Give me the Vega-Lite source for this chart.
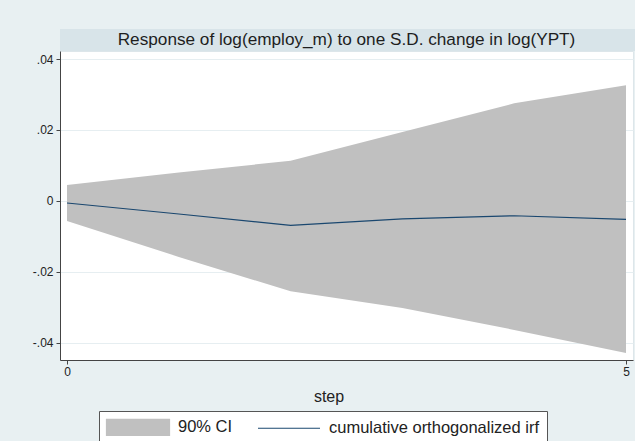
{
  "$schema": "https://vega.github.io/schema/vega-lite/v6.json",
  "background": "#e8f0f2",
  "padding": {"left": 31, "top": 29, "right": 0, "bottom": 0},
  "bounds": "flush",
  "spacing": 0,
  "config": {
    "font": "Liberation Sans",
    "view": {"fill": "white", "stroke": "#dde6ea"}
  },
  "datasets": {
    "irf": [
      {"step": 0, "lower": -0.0057, "upper": 0.0045, "irf": -0.0006},
      {"step": 1, "lower": -0.0158, "upper": 0.0080, "irf": -0.0037},
      {"step": 2, "lower": -0.0255, "upper": 0.0113, "irf": -0.0069},
      {"step": 3, "lower": -0.0302, "upper": 0.0194, "irf": -0.0051},
      {"step": 4, "lower": -0.0364, "upper": 0.0275, "irf": -0.0042},
      {"step": 5, "lower": -0.0429, "upper": 0.0326, "irf": -0.0052}
    ],
    "titles": [
      {"label": "Response of log(employ_m) to one S.D. change in log(YPT)"}
    ]
  },
  "vconcat": [
    {
      "width": 575,
      "height": 22,
      "view": {"fill": "#d8e4e9", "stroke": null},
      "data": {"name": "titles"},
      "mark": {"type": "text", "fontSize": 17.2, "color": "#1e1e1e", "font": "Liberation Sans", "align": "center", "baseline": "middle", "dx": -1},
      "encoding": {"text": {"field": "label", "type": "nominal"}}
    },
    {
      "width": 573,
      "height": 309,
      "data": {"name": "irf"},
      "encoding": {
        "x": {
          "field": "step",
          "type": "quantitative",
          "scale": {"domain": [-0.0626, 5.0626], "nice": false, "zero": false},
          "axis": {
            "values": [0, 5],
            "format": "d",
            "title": "step",
            "grid": false,
            "tickSize": 4,
            "labelPadding": 2,
            "labelFontSize": 12,
            "labelColor": "#222",
            "labelFont": "Liberation Sans",
            "domainColor": "#444",
            "tickColor": "#444",
            "titleFont": "Liberation Sans",
            "titleFontSize": 16,
            "titleFontWeight": "normal",
            "titleColor": "#222",
            "titlePadding": 11,
            "titleX": 268.5
          }
        }
      },
      "layer": [
        {
          "mark": {"type": "area", "opacity": 1},
          "encoding": {
            "y": {
              "field": "lower",
              "type": "quantitative",
              "scale": {"domain": [-0.04488, 0.04226], "nice": false, "zero": false},
              "axis": {
                "values": [-0.04, -0.02, 0, 0.02, 0.04],
                "labelExpr": "datum.value == 0 ? '0' : (datum.value < 0 ? '-' : '') + '.' + format(round(abs(datum.value) * 100), '02d')",
                "title": null,
                "tickSize": 4,
                "labelPadding": 3,
                "labelFontSize": 12,
                "labelColor": "#222",
                "labelFont": "Liberation Sans",
                "domainColor": "#444",
                "tickColor": "#444",
                "grid": true,
                "gridColor": "#e6eef1",
                "gridWidth": 1
              }
            },
            "y2": {"field": "upper"},
            "color": {
              "datum": "90% CI",
              "type": "nominal",
              "scale": {
                "domain": ["90% CI", "cumulative orthogonalized irf"],
                "range": ["#c0c0c0", "#1a476f"]
              },
              "legend": {
                "orient": "none",
                "legendX": 39,
                "legendY": 382,
                "direction": "horizontal",
                "columns": 2,
                "title": null,
                "fillColor": "white",
                "strokeColor": "#555",
                "padding": 7,
                "labelFont": "Liberation Sans",
                "labelFontSize": 16.5,
                "labelColor": "#222",
                "labelLimit": 400,
                "symbolSize": 256,
                "symbolOffset": 23,
                "labelOffset": 31,
                "columnPadding": 22,
                "symbolStrokeWidth": 1.2,
                "encode": {
                  "symbols": {
                    "update": {
                      "shape": {"signal": "datum.value === '90% CI' ? 'M-3.94,-1H3.94V1H-3.94Z' : 'M-3.875,0H3.875'"},
                      "fill": {"signal": "datum.value === '90% CI' ? '#c0c0c0' : 'transparent'"},
                      "stroke": {"signal": "datum.value === '90% CI' ? 'transparent' : '#1a476f'"},
                      "strokeWidth": {"value": 1.2},
                      "opacity": {"value": 1}
                    }
                  }
                }
              }
            }
          }
        },
        {
          "mark": {"type": "line", "strokeWidth": 1.2},
          "encoding": {
            "y": {"field": "irf", "type": "quantitative"},
            "color": {
              "datum": "cumulative orthogonalized irf",
              "type": "nominal",
              "legend": {
                "orient": "none",
                "legendX": 39,
                "legendY": 382,
                "direction": "horizontal",
                "columns": 2,
                "title": null,
                "fillColor": "white",
                "strokeColor": "#555",
                "padding": 7,
                "labelFont": "Liberation Sans",
                "labelFontSize": 16.5,
                "labelColor": "#222",
                "labelLimit": 400,
                "symbolSize": 256,
                "symbolOffset": 23,
                "labelOffset": 31,
                "columnPadding": 22,
                "symbolStrokeWidth": 1.2,
                "encode": {
                  "symbols": {
                    "update": {
                      "shape": {"signal": "datum.value === '90% CI' ? 'M-3.94,-1H3.94V1H-3.94Z' : 'M-3.875,0H3.875'"},
                      "fill": {"signal": "datum.value === '90% CI' ? '#c0c0c0' : 'transparent'"},
                      "stroke": {"signal": "datum.value === '90% CI' ? 'transparent' : '#1a476f'"},
                      "strokeWidth": {"value": 1.2},
                      "opacity": {"value": 1}
                    }
                  }
                }
              }
            }
          }
        }
      ]
    }
  ]
}
